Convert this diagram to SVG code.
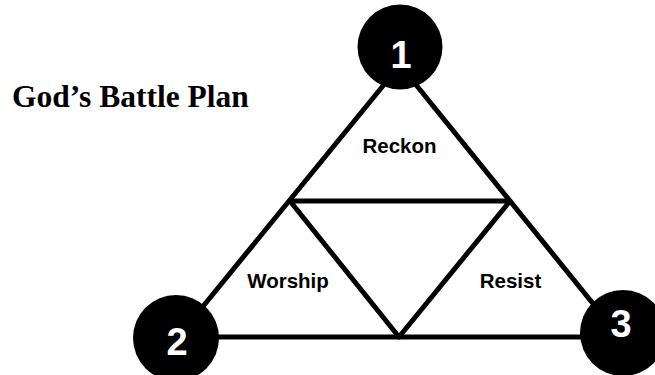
<svg xmlns="http://www.w3.org/2000/svg" width="655" height="375" viewBox="0 0 655 375">
<style>
.ln{stroke:#000;stroke-width:5;fill:none;stroke-linecap:round;stroke-linejoin:round}
.num{font-family:"Liberation Sans",Arial,sans-serif;font-weight:bold;font-size:38px;fill:#fff;text-anchor:middle}
.lbl{font-family:"Liberation Sans",Arial,sans-serif;font-weight:bold;font-size:20.5px;fill:#000;text-anchor:middle}
.title{font-family:"Liberation Serif","Times New Roman",serif;font-weight:bold;font-size:31.5px;fill:#000}
</style>
<rect width="655" height="375" fill="#fff"/>
<text class="title" x="12" y="107">God’s Battle Plan</text>
<g id="connectors">
<polygon class="ln" points="400,65 178,337 620,337"/>
<polygon class="ln" points="290,201 510,201 399,337"/>
</g>
<g id="n1"><circle cx="400" cy="47" r="42.5"/><text class="num" x="401" y="68">1</text></g>
<g id="n2"><circle cx="176" cy="338" r="43"/><text class="num" x="177" y="355">2</text></g>
<g id="n3"><circle cx="623" cy="333" r="43"/><text class="num" x="621" y="337">3</text></g>
<g id="reckon"><text class="lbl" x="399.5" y="153">Reckon</text></g>
<g id="worship"><text class="lbl" x="288" y="288">Worship</text></g>
<g id="resist"><text class="lbl" x="510.5" y="288">Resist</text></g>
</svg>
